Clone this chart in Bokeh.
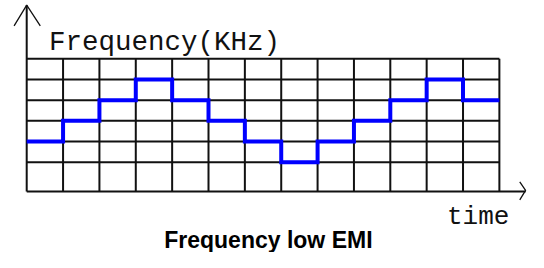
from bokeh.plotting import figure
from bokeh.models import Range1d, Label
from bokeh.embed import file_html
from bokeh.resources import INLINE

# ---- data ----
levels = [2, 3, 4, 5, 4, 3, 2, 1, 2, 3, 4, 5, 4]   # frequency level per time step
grid_rows = [1, 2, 3, 4, 5, 6]                     # horizontal grid levels
y_label = "Frequency(KHz)"
x_label = "time"
chart_title = "Frequency low EMI"

# ---- layout: reference pixel positions mapped into the figure ----
REF_W, REF_H = 544, 268
W, H = 528, 252
kx, ky = W / REF_W, H / REF_H

n = len(levels)
X0_PX, X1_PX = 27 * kx, 514 * kx          # left / right of grid
YTOP_PX, Y1_PX = 62 * ky, 172 * ky        # top grid line (6) / lowest grid line (1)
sx = (X1_PX - X0_PX) / n
sy = (Y1_PX - YTOP_PX) / (max(grid_rows) - min(grid_rows))
y_top = max(grid_rows)
x_start = -X0_PX / sx
x_end = (W - X0_PX) / sx
y_end = y_top + YTOP_PX / sy
y_start = y_top - (H - YTOP_PX) / sy


def dx(ref_px):
    return x_start + ref_px * kx / sx


def dy(ref_py):
    return y_end - ref_py * ky / sy


y_bottom = dy(203)

p = figure(width=W, height=H, x_range=Range1d(x_start, x_end),
           y_range=Range1d(y_start, y_end), output_backend="svg",
           toolbar_location=None, x_axis_type=None, y_axis_type=None,
           min_border=0)
p.outline_line_color = None
p.grid.visible = False
p.background_fill_color = "white"
p.border_fill_color = "white"

grid_col = "#111111"
# vertical grid lines
xs_v = list(range(1, n + 1))
p.segment(x0=xs_v, y0=[y_bottom] * len(xs_v), x1=xs_v, y1=[y_top] * len(xs_v),
          line_color=grid_col, line_width=2)
# horizontal grid lines
p.segment(x0=[0] * len(grid_rows), y0=grid_rows, x1=[n] * len(grid_rows), y1=grid_rows,
          line_color=grid_col, line_width=2)

# axes with arrows
p.line([0, 0], [y_bottom, dy(5)], line_color=grid_col, line_width=2)
p.line([0, dx(541)], [y_bottom, y_bottom], line_color=grid_col, line_width=2)
p.line([dx(14), dx(27), dx(41)], [dy(27), dy(5), dy(27)], line_color=grid_col, line_width=1.3)
p.line([dx(535), dx(541), dx(535)], [dy(193), dy(202), dy(212)], line_color=grid_col, line_width=1.3)

# frequency steps
p.step(list(range(n + 1)), levels + [levels[-1]], mode="after",
       line_color="#0000ff", line_width=4, line_join="miter")

p.add_layout(Label(x=dx(50), y=dy(45), text=y_label, text_font="Liberation Mono",
                   text_font_size="27.5px", text_color="#111111", text_baseline="alphabetic"))
p.add_layout(Label(x=dx(460), y=dy(230), text=x_label, text_font="Liberation Mono",
                   text_font_size="26px", text_color="#111111", text_baseline="alphabetic"))
p.add_layout(Label(x=dx(276), y=dy(254.5), text=chart_title, text_font="Liberation Sans",
                   text_font_style="bold", text_font_size="23px", text_color="black",
                   text_align="center", text_baseline="alphabetic"))

open("out.html", "w").write(file_html(p, INLINE))
